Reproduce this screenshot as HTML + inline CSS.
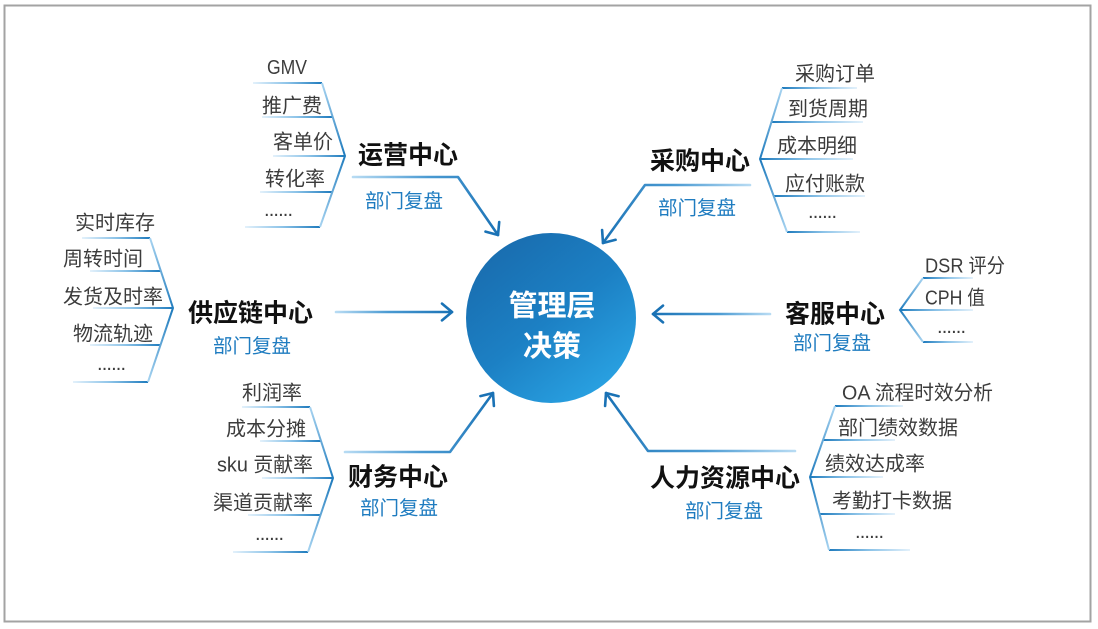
<!DOCTYPE html>
<html><head><meta charset="utf-8"><style>
html,body{margin:0;padding:0;background:#fff;}
svg{display:block;}
text{font-family:"Liberation Sans","Noto Sans CJK SC",sans-serif;}
.it{font-size:20px;fill:#3c3c3c;}
.tt{font-size:25px;font-weight:bold;fill:#111;}
.sb{font-size:19.5px;fill:#1f7cc0;}
.ct{font-size:29px;font-weight:bold;fill:#fff;}
</style></head><body>
<svg width="1098" height="629" viewBox="0 0 1098 629" xmlns="http://www.w3.org/2000/svg">
<defs>
<linearGradient id="hR" x1="0" y1="0" x2="1" y2="0"><stop offset="0" stop-color="#e3f1fb"/><stop offset="0.5" stop-color="#8cc3e8"/><stop offset="1" stop-color="#1f7bbd"/></linearGradient>
<linearGradient id="hL" x1="1" y1="0" x2="0" y2="0"><stop offset="0" stop-color="#e3f1fb"/><stop offset="0.5" stop-color="#8cc3e8"/><stop offset="1" stop-color="#1f7bbd"/></linearGradient>
<linearGradient id="vM" x1="0" y1="0" x2="0" y2="1"><stop offset="0" stop-color="#a8d4f1"/><stop offset="0.5" stop-color="#1f7bbd"/><stop offset="1" stop-color="#a8d4f1"/></linearGradient>
<linearGradient id="gA" gradientUnits="userSpaceOnUse" x1="353" y1="177" x2="498" y2="235"><stop offset="0" stop-color="#b7dbf3"/><stop offset="0.45" stop-color="#4a9ad2"/><stop offset="1" stop-color="#1a72b5"/></linearGradient>
<linearGradient id="gB" gradientUnits="userSpaceOnUse" x1="750" y1="185" x2="603" y2="243"><stop offset="0" stop-color="#b7dbf3"/><stop offset="0.45" stop-color="#4a9ad2"/><stop offset="1" stop-color="#1a72b5"/></linearGradient>
<linearGradient id="gC" gradientUnits="userSpaceOnUse" x1="336" y1="312" x2="452" y2="312"><stop offset="0" stop-color="#b7dbf3"/><stop offset="0.45" stop-color="#4a9ad2"/><stop offset="1" stop-color="#1a72b5"/></linearGradient>
<linearGradient id="gD" gradientUnits="userSpaceOnUse" x1="345" y1="452" x2="493" y2="393"><stop offset="0" stop-color="#b7dbf3"/><stop offset="0.45" stop-color="#4a9ad2"/><stop offset="1" stop-color="#1a72b5"/></linearGradient>
<linearGradient id="gE" gradientUnits="userSpaceOnUse" x1="795" y1="451" x2="606" y2="393"><stop offset="0" stop-color="#b7dbf3"/><stop offset="0.45" stop-color="#4a9ad2"/><stop offset="1" stop-color="#1a72b5"/></linearGradient>
<linearGradient id="gF" gradientUnits="userSpaceOnUse" x1="770" y1="314" x2="653" y2="314"><stop offset="0" stop-color="#b7dbf3"/><stop offset="0.45" stop-color="#4a9ad2"/><stop offset="1" stop-color="#1a72b5"/></linearGradient>
<linearGradient id="circ" x1="0.15" y1="0.05" x2="0.85" y2="0.95"><stop offset="0" stop-color="#196cae"/><stop offset="0.5" stop-color="#1c80c4"/><stop offset="1" stop-color="#2aa4e4"/></linearGradient>
</defs>

<rect x="4.5" y="5.5" width="1086" height="616" fill="#fff" stroke="#a3a3a3" stroke-width="2"/>

<!-- center circle -->
<circle cx="551" cy="318" r="85" fill="url(#circ)"/>
<text class="ct" x="552" y="315.5" text-anchor="middle">管理层</text>
<text class="ct" x="552" y="356" text-anchor="middle">决策</text>

<!-- arrows -->
<g fill="none" stroke-width="2.6" stroke-linecap="round" stroke-linejoin="round">
<polyline points="353,177 458,177 498,235" stroke="url(#gA)"/>
<polyline points="499.2,222.1 498,235 485.5,231.6" stroke="#1a72b5"/>
<polyline points="750,185 645,185 603,243" stroke="url(#gB)"/>
<polyline points="615.6,239.8 603,243 602.1,230" stroke="#1a72b5"/>
<line x1="336" y1="312" x2="452" y2="312" stroke="url(#gC)"/>
<polyline points="442,303.6 452,312 442,320.4" stroke="#1a72b5"/>
<polyline points="345,452 450,452 493,393" stroke="url(#gD)"/>
<polyline points="480.4,396.1 493,393 493.9,406" stroke="#1a72b5"/>
<polyline points="795,451 648,451 606,393" stroke="url(#gE)"/>
<polyline points="605.1,406 606,393 618.6,396.2" stroke="#1a72b5"/>
<line x1="770" y1="314" x2="653" y2="314" stroke="url(#gF)"/>
<polyline points="663,305.6 653,314 663,322.4" stroke="#1a72b5"/>
</g>

<!-- 运营中心 -->
<g>
<rect x="253" y="82" width="69" height="2" fill="url(#hR)"/>
<rect x="262" y="116" width="70" height="2" fill="url(#hR)"/>
<rect x="273" y="155" width="72" height="2" fill="url(#hR)"/>
<rect x="260" y="191" width="72" height="2" fill="url(#hR)"/>
<rect x="245" y="226" width="75" height="2" fill="url(#hR)"/>
<polyline points="322,83 345,156 320,227" fill="none" stroke="url(#vM)" stroke-width="2"/>
<text class="it" x="267" y="74" textLength="40" lengthAdjust="spacingAndGlyphs">GMV</text>
<text class="it" x="262" y="112.5">推广费</text>
<text class="it" x="273" y="148.5">客单价</text>
<text class="it" x="265" y="185.5">转化率</text>
<text class="it" x="264" y="216" textLength="29">......</text>
<text class="tt" x="358" y="163.5">运营中心</text>
<text class="sb" x="365" y="207.5">部门复盘</text>
</g>

<!-- 采购中心 -->
<g>
<rect x="782" y="87" width="75" height="2" fill="url(#hL)"/>
<rect x="772" y="121" width="91" height="2" fill="url(#hL)"/>
<rect x="760" y="158" width="93" height="2" fill="url(#hL)"/>
<rect x="774" y="195" width="91" height="2" fill="url(#hL)"/>
<rect x="787" y="231" width="73" height="2" fill="url(#hL)"/>
<polyline points="782,88 760,159 787,232" fill="none" stroke="url(#vM)" stroke-width="2"/>
<text class="it" x="795" y="80.5">采购订单</text>
<text class="it" x="788" y="115.5">到货周期</text>
<text class="it" x="777" y="152.5">成本明细</text>
<text class="it" x="785" y="190.5">应付账款</text>
<text class="it" x="808" y="218" textLength="29">......</text>
<text class="tt" x="650" y="169.5">采购中心</text>
<text class="sb" x="658" y="214.5">部门复盘</text>
</g>

<!-- 供应链中心 -->
<g>
<rect x="82" y="237" width="68" height="2" fill="url(#hR)"/>
<rect x="90" y="270" width="71" height="2" fill="url(#hR)"/>
<rect x="93" y="307" width="80" height="2" fill="url(#hR)"/>
<rect x="90" y="344" width="71" height="2" fill="url(#hR)"/>
<rect x="73" y="381" width="75" height="2" fill="url(#hR)"/>
<polyline points="150,238 173,308 148,382" fill="none" stroke="url(#vM)" stroke-width="2"/>
<text class="it" x="75" y="229.5">实时库存</text>
<text class="it" x="63" y="265.5">周转时间</text>
<text class="it" x="63" y="303.5">发货及时率</text>
<text class="it" x="73" y="340.5">物流轨迹</text>
<text class="it" x="97" y="370" textLength="29">......</text>
<text class="tt" x="188" y="321.5">供应链中心</text>
<text class="sb" x="213" y="352.5">部门复盘</text>
</g>

<!-- 财务中心 -->
<g>
<rect x="242" y="406" width="68" height="2" fill="url(#hR)"/>
<rect x="260" y="440" width="61" height="2" fill="url(#hR)"/>
<rect x="262" y="477" width="71" height="2" fill="url(#hR)"/>
<rect x="248" y="514" width="73" height="2" fill="url(#hR)"/>
<rect x="233" y="551" width="75" height="2" fill="url(#hR)"/>
<polyline points="310,407 333,478 308,552" fill="none" stroke="url(#vM)" stroke-width="2"/>
<text class="it" x="242" y="399.5">利润率</text>
<text class="it" x="226" y="435.5">成本分摊</text>
<text class="it" x="217" y="471.5" textLength="96" lengthAdjust="spacingAndGlyphs">sku 贡献率</text>
<text class="it" x="213" y="509.5">渠道贡献率</text>
<text class="it" x="255" y="540" textLength="29">......</text>
<text class="tt" x="348" y="485.5">财务中心</text>
<text class="sb" x="360" y="514.5">部门复盘</text>
</g>

<!-- 人力资源中心 -->
<g>
<rect x="835" y="405" width="68" height="2" fill="url(#hL)"/>
<rect x="823" y="439" width="72" height="2" fill="url(#hL)"/>
<rect x="810" y="476" width="73" height="2" fill="url(#hL)"/>
<rect x="820" y="513" width="75" height="2" fill="url(#hL)"/>
<rect x="829" y="549" width="81" height="2" fill="url(#hL)"/>
<polyline points="835,406 810,477 829,550" fill="none" stroke="url(#vM)" stroke-width="2"/>
<text class="it" x="842" y="399.5" textLength="151" lengthAdjust="spacingAndGlyphs">OA 流程时效分析</text>
<text class="it" x="838" y="434.5">部门绩效数据</text>
<text class="it" x="825" y="470.5">绩效达成率</text>
<text class="it" x="832" y="507.5">考勤打卡数据</text>
<text class="it" x="855" y="538" textLength="29">......</text>
<text class="tt" x="650" y="486.5">人力资源中心</text>
<text class="sb" x="685" y="517.5">部门复盘</text>
</g>

<!-- 客服中心 -->
<g>
<rect x="923" y="277" width="50" height="2" fill="url(#hL)"/>
<rect x="900" y="309" width="73" height="2" fill="url(#hL)"/>
<rect x="923" y="341" width="50" height="2" fill="url(#hL)"/>
<polyline points="923,278 900,310 923,342" fill="none" stroke="url(#vM)" stroke-width="2"/>
<text class="it" x="925" y="272.5" textLength="80" lengthAdjust="spacingAndGlyphs">DSR 评分</text>
<text class="it" x="925" y="304.5" textLength="60" lengthAdjust="spacingAndGlyphs">CPH 值</text>
<text class="it" x="937" y="333" textLength="29">......</text>
<text class="tt" x="785" y="322.5">客服中心</text>
<text class="sb" x="793" y="349.5">部门复盘</text>
</g>
</svg>
</body></html>
